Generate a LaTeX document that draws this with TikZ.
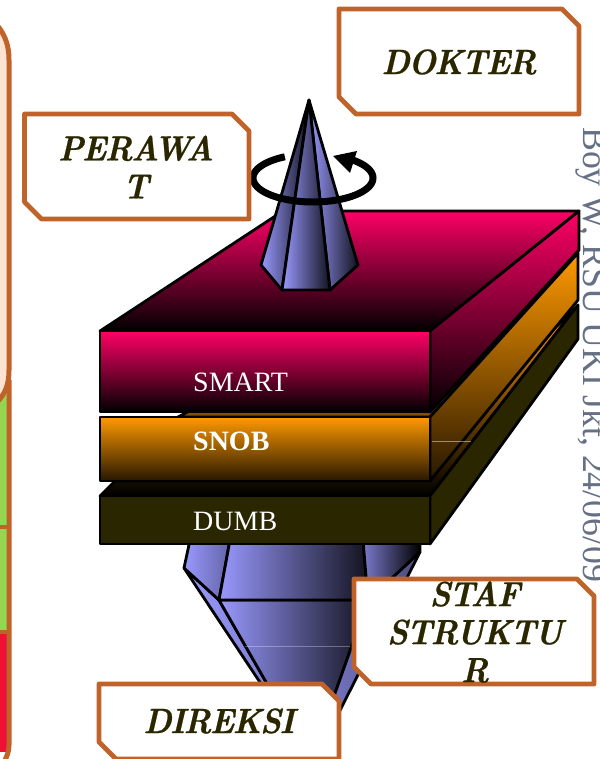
\documentclass[tikz,border=0pt]{standalone}
\usepackage{fontspec}
\setmainfont{Liberation Serif}
\newfontfamily\lmbold[BoldItalicFont={Latin Modern Roman/BI},BoldItalicFeatures={FakeStretch=0.93,LetterSpace=-5,FakeBold=0.6}]{Latin Modern Roman}
\usetikzlibrary{shapes.misc}
\definecolor{boxline}{HTML}{C0632A}
\definecolor{boxtext}{HTML}{2A2600}
\definecolor{magentaA}{HTML}{FF0066}
\definecolor{orangeA}{HTML}{FF9900}
\definecolor{darkA}{HTML}{2A2600}
\definecolor{blueA}{HTML}{9999FF}
\definecolor{peachA}{HTML}{FDE3D2}
\definecolor{greenA}{HTML}{95D550}
\definecolor{redA}{HTML}{EE1133}
\definecolor{stamp}{HTML}{667085}
\tikzset{
  edge/.style={draw=black,line width=2.8pt,line join=round},
  snipbox/.style={draw=boxline,line width=4.8pt,line join=round,fill=white},
  boxlabel/.style={align=center,text=boxtext,inner sep=0pt,
    font=\lmbold\fontsize{35}{38}\selectfont\bfseries\itshape},
  layerlabel/.style={text=white,anchor=base west,inner sep=0pt,font=\fontsize{28}{30}\selectfont},
  conefacet/.style={edge,left color=blueA,middle color=blueA!75!black,right color=blueA!12!black},
}
\newcommand{\snipshape}[4]{\draw[snipbox] (#1,#2) -- (#3-17,#2) -- (#3,#2+17) -- (#3,#4) -- (#1+17,#4) -- (#1,#4-17) -- cycle;}
\begin{document}
\begin{tikzpicture}[x=1pt,y=-1pt]
\useasboundingbox (0,0) rectangle (599,759);
% left panel
\fill[greenA] (-2,385) rectangle (8,527);
\fill[greenA] (-2,527) rectangle (8,632);
\fill[redA] (-2,632) rectangle (8,752);
\draw[boxline,line width=4.5pt] (-2,527) -- (9,527);
\draw[boxline,line width=4.5pt] (-2,632) -- (9,632);
\draw[boxline,line width=5pt] (9,380) -- (9,745) .. controls (9,752) and (7,756) .. (4,762);
\draw[boxline,line width=5pt,fill=peachA] (-3,25) .. controls (5,35) and (9,45) .. (9,60) -- (9,370) .. controls (9,385) and (5,394) .. (-3,402) -- cycle;
% stamp
\node[rotate=-90,anchor=base west,inner sep=0pt,text=stamp,font=\fontsize{35.8}{38}\selectfont] (stampnode) at (583,127) {Boy W, RSU UKI Jkt, 24/06/09};
% lower cone
\shade[edge,left color=blueA,right color=blueA!75!black] (184,568) -- (219,600) -- (305,750) -- cycle;
\shade[edge,left color=blueA,right color=blueA!65!black] (190,540) -- (230,540) -- (219,600) -- (184,568) -- cycle;
\shade[conefacet] (219,600) -- (368,600) -- (315,750) -- (305,750) -- cycle;
\shade[conefacet] (230,540) -- (363,540) -- (368,600) -- (219,600) -- cycle;
\shade[edge,left color=blueA!80!black,right color=blueA!50!black] (368,600) -- (420,552) -- (320,750) -- (315,750) -- cycle;
\shade[edge,left color=blueA!80!black,right color=black] (363,540) -- (420,540) -- (420,552) -- (368,600) -- cycle;
\draw[white,opacity=.3,line width=.7pt] (245,646) -- (350,646);
% dumb layer
\shade[edge,top color=orangeA,bottom color=black] (100,496) -- (115,481) -- (400,481) -- (578,305) -- (430,496) -- cycle;
\fill[edge,fill=darkA] (430,496) -- (578,305) -- (578,339) -- (430,544) -- cycle;
\fill[edge,fill=darkA] (100,496) rectangle (430,544);
% orange layer
\shade[edge,top color=orangeA,bottom color=orangeA!50!black] (178,417) -- (400,300) -- (578,253) -- (430,417) -- cycle;
\shade[edge,top color=orangeA,bottom color=black!85!orangeA] (430,417) -- (578,253) -- (578,300) -- (430,481) -- cycle;
\shade[edge,top color=orangeA,bottom color=black!85!orangeA] (100,417) rectangle (430,481);
\draw[white,opacity=.45,line width=.7pt] (432,441) -- (471,441);
% smart layer
\shade[edge,top color=magentaA,bottom color=black] (100,331) -- (283,211) -- (579,211) -- (430,331) -- cycle;
\shade[edge,top color=magentaA,bottom color=black] (430,331) -- (579,211) -- (579,250) -- (430,412) -- cycle;
\shade[edge,top color=magentaA,bottom color=black] (100,331) rectangle (430,412);
% layer labels
\node[layerlabel] (smart) at (193,391) {SMART};
\node[layerlabel,font=\fontsize{28}{30}\selectfont\bfseries] (snob) at (193,450.5) {SNOB};
\node[layerlabel] (dumb) at (193,530) {DUMB};
% top cone
\shade[conefacet] (309,100) -- (330,290) -- (358,265) -- cycle;
\shade[conefacet] (309,100) -- (261,265) -- (282,290) -- cycle;
\shade[conefacet] (309,100) -- (282,290) -- (330,290) -- cycle;
% rotation arrow
\draw[black,line width=7pt] plot[domain=118:408,samples=80] ({313+60*cos(\x)},{178-24*sin(\x)});
\fill[black] (333,156) -- (357,151) -- (350,173) -- cycle;
% label boxes
\snipshape{24.5}{114}{249}{219}
\node[boxlabel] (perawat) at (136,167) {PERAWA\\T};
\snipshape{339}{9}{579}{114}
\node[boxlabel] (dokter) at (459,62) {DOKTER};
\snipshape{354}{579}{594}{684}
\node[boxlabel] (staf) at (475,632) {STAF\\STRUKTU\\R};
\snipshape{99}{684}{339}{759}
\node[boxlabel] (direksi) at (219,721) {DIREKSI};
\end{tikzpicture}
\end{document}
